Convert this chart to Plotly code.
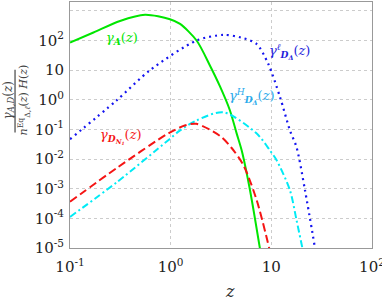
import plotly.graph_objects as go

# gamma_A(z)
zA = [0.1, 0.171, 0.314, 0.556, 0.984, 1.24, 1.81, 2.46, 3.09, 3.88, 4.53, 5.08, 6.14, 7.71]
gA = [85, 186, 457, 741, 525, 363, 100, 14.1, 2.82, 0.437, 0.0724, 0.0195, 8.9e-4, 9.5e-6]

# gamma^l_D_Delta(z)
zL = [0.1, 0.288, 0.624, 1.81, 3.33, 5.01, 7.16, 9.33, 12.2, 15.3, 17.8, 21.6, 27.2]
gL = [0.047, 0.933, 10, 100, 155, 126, 75.9, 16.2, 1.23, 0.0933, 0.0251, 8.9e-4, 9.5e-6]

# gamma^H_D_Delta(z)
zH = [0.1, 0.3, 0.94, 1.24, 1.80, 3.33, 7.16, 9.70, 11.3, 15.3, 17.8, 20.4]
gH = [1.12e-4, 1.78e-3, 0.0427, 0.0933, 0.2, 0.38, 0.0724, 0.0195, 9.1e-3, 8.9e-4, 8.7e-5, 9.5e-6]

# gamma_D_N1(z)
zN = [0.1, 0.3, 0.94, 1.38, 1.80, 3.09, 3.98, 5.27, 7.16, 9.55]
gN = [3.63e-4, 5.37e-3, 0.0724, 0.135, 0.155, 0.0603, 0.0251, 6.3e-3, 4.07e-4, 9.5e-6]

x_tickvals = [0.1, 1, 10, 100]
x_ticktext = ["10<sup>-1</sup>", "10<sup>0</sup>", "10", "10<sup>2</sup>"]
y_tickvals = [1e-5, 1e-4, 1e-3, 1e-2, 1e-1, 1, 10, 100, 1000]
y_ticktext = ["10<sup>-5</sup>", "10<sup>-4</sup>", "10<sup>-3</sup>", "10<sup>-2</sup>",
              "10<sup>-1</sup>", "10<sup>0</sup>", "10", "10<sup>2</sup>", "10<sup>3</sup>"]

GREEN = "rgb(0,230,0)"
BLUE = "rgb(20,20,240)"
CYAN = "rgb(0,235,245)"
RED = "rgb(245,20,20)"

fig = go.Figure()
fig.add_trace(go.Scatter(x=zA, y=gA, mode="lines",
                         line=dict(color=GREEN, width=2, shape="spline", smoothing=0.8)))
fig.add_trace(go.Scatter(x=zL, y=gL, mode="lines",
                         line=dict(color=BLUE, width=2.2, dash="2px,4px", shape="spline", smoothing=0.8)))
fig.add_trace(go.Scatter(x=zH, y=gH, mode="lines",
                         line=dict(color=CYAN, width=2, dash="7px,3px,2px,3px", shape="spline", smoothing=0.8)))
fig.add_trace(go.Scatter(x=zN, y=gN, mode="lines",
                         line=dict(color=RED, width=2, dash="8px,4px", shape="spline", smoothing=0.8)))

serif = "DejaVu Serif"
lab_font = 13

annos = [
    dict(x=-0.48, y=2.06, text="<i>γ</i><sub><b><i>A</i></b></sub>(<i>z</i>)", color=GREEN),
    dict(x=-0.49, y=-1.25, text="<i>γ</i><sub><b><i>D<sub>N<sub>1</sub></sub></i></b></sub>(<i>z</i>)", color=RED),
    dict(x=1.18, y=1.62, text="<i>γ</i><sup><i>ℓ</i></sup><sub><b><i>D<sub>Δ</sub></i></b></sub>(<i>z</i>)", color="rgb(30,30,220)"),
    dict(x=0.81, y=0.08, text="<i>γ</i><sup><i>H</i></sup><sub><b><i>D<sub>Δ</sub></i></b></sub>(<i>z</i>)", color="rgb(40,170,235)"),
]
annotations = []
for a in annos:
    annotations.append(dict(x=a["x"], y=a["y"], xref="x", yref="y", text=a["text"],
                            showarrow=False, font=dict(family=serif, size=lab_font, color=a["color"]),
                            xanchor="center", yanchor="middle"))

# y-axis title as a rotated fraction
annotations.append(dict(x=0, y=0.60, xref="paper", yref="paper", xshift=-61,
                        text="<i>γ</i><sub><i>A,D</i></sub>(<i>z</i>)", textangle=-90, showarrow=False,
                        font=dict(family=serif, size=12, color="#444"), xanchor="center", yanchor="middle"))
annotations.append(dict(x=0, y=0.60, xref="paper", yref="paper", xshift=-46,
                        text="<i>n</i><sup>Eq</sup><sub>Δ,<i>ℓ</i></sub>(<i>z</i>) <i>H</i>(<i>z</i>)", textangle=-90,
                        showarrow=False, font=dict(family=serif, size=11, color="#444"),
                        xanchor="center", yanchor="middle"))
annotations.append(dict(x=0.5, y=0, xref="paper", yref="paper", yshift=-43,
                        text="<i>z</i>", showarrow=False, xshift=9,
                        font=dict(family=serif, size=16, color="#333"), xanchor="center", yanchor="middle"))

fig.update_layout(
    width=382, height=300,
    margin=dict(l=70, r=10, t=2, b=52),
    plot_bgcolor="white", paper_bgcolor="white",
    showlegend=False,
    annotations=annotations,
    shapes=[dict(type="line", xref="paper", yref="paper", x0=-0.182, x1=-0.182, y0=0.47, y1=0.725,
                 line=dict(color="#444", width=1.2))],
    font=dict(family=serif, color="#222"),
)
fig.update_xaxes(type="log", range=[-1, 2], tickvals=x_tickvals, ticktext=x_ticktext,
                 showgrid=True, gridcolor="#cccccc", griddash="dot", gridwidth=1,
                 showline=True, mirror=True, linecolor="#999", linewidth=1, automargin=False,
                 ticklabeloverflow="allow", ticklabelstandoff=5,
                 ticks="", tickfont=dict(family=serif, size=15, color="#222"), zeroline=False)
fig.update_yaxes(type="log", range=[-5, 3.3], tickvals=y_tickvals, ticktext=y_ticktext,
                 showgrid=True, gridcolor="#cccccc", griddash="dot", gridwidth=1,
                 showline=True, mirror=True, linecolor="#999", linewidth=1, automargin=False,
                 ticks="", ticklabelstandoff=2, tickfont=dict(family=serif, size=15, color="#222"),
                 zeroline=False)

fig.write_html("out.html", config={"displayModeBar": False},
               post_script="document.body.style.margin='0';document.body.style.overflow='hidden';")
